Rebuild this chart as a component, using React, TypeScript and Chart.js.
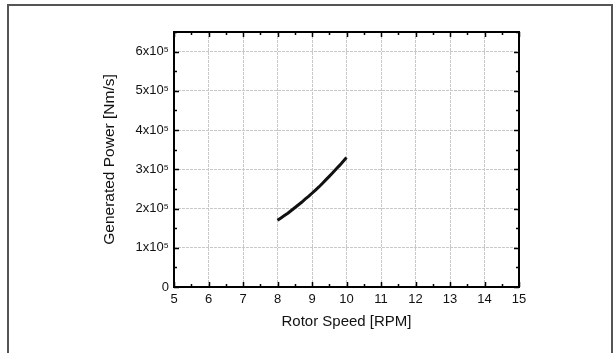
import React, { useEffect, useRef } from "react";
import { Chart, registerables } from "chart.js";

Chart.register(...registerables);

const rotorSpeed = [8.0, 8.1, 8.2, 8.3, 8.4, 8.5, 8.6, 8.7, 8.8, 8.9, 9.0, 9.1, 9.2, 9.3, 9.4, 9.5, 9.6, 9.7, 9.8, 9.9, 10.0];
const generatedPower = [170000, 176000, 182000, 188000, 195000, 202000, 209000, 216000, 224000, 231000, 239000, 247000, 255000, 264000, 273000, 282000, 291000, 301000, 310000, 320000, 330000];
const yTickValues = [0, 100000, 200000, 300000, 400000, 500000, 600000];
const xTitle = "Rotor Speed [RPM]";
const yTitle = "Generated Power [Nm/s]";

const FONT = "'Liberation Sans', Arial, Helvetica, sans-serif";

const framePlugin = {
  id: "frame",
  beforeDraw(chart: any) {
    const ctx = chart.ctx;
    ctx.save();
    ctx.fillStyle = "#ffffff";
    ctx.fillRect(0, 0, chart.width, chart.height);
    ctx.strokeStyle = "#555555";
    ctx.lineWidth = 2;
    ctx.strokeRect(8, 5, 604, 400);
    ctx.restore();
  },
  afterDraw(chart: any) {
    const ctx = chart.ctx;
    const a = chart.chartArea;
    const xs = chart.scales.x;
    const ys = chart.scales.y;
    ctx.save();
    ctx.strokeStyle = "#000000";
    ctx.lineWidth = 1.5;
    ctx.beginPath();
    for (let v = 5; v <= 15.001; v += 0.5) {
      const px = Math.round(xs.getPixelForValue(v)) + 0.5;
      const len = Math.abs(v - Math.round(v)) < 1e-6 ? 5 : 3;
      ctx.moveTo(px, a.bottom);
      ctx.lineTo(px, a.bottom - len);
      ctx.moveTo(px, a.top);
      ctx.lineTo(px, a.top + len);
    }
    for (let v = 0; v <= 650001; v += 50000) {
      const py = Math.round(ys.getPixelForValue(v)) + 0.5;
      const len = v % 100000 === 0 ? 5 : 3;
      ctx.moveTo(a.left, py);
      ctx.lineTo(a.left + len, py);
      ctx.moveTo(a.right, py);
      ctx.lineTo(a.right - len, py);
    }
    ctx.stroke();
    ctx.lineWidth = 2;
    ctx.strokeRect(a.left, a.top, a.right - a.left, a.bottom - a.top);
    ctx.restore();
  },
};

export default function App() {
  const ref = useRef<HTMLCanvasElement>(null);
  useEffect(() => {
    document.body.style.margin = "0";
    const chart = new Chart(ref.current as HTMLCanvasElement, {
      type: "line",
      data: {
        datasets: [
          {
            data: rotorSpeed.map((x, i) => ({ x, y: generatedPower[i] })),
            borderColor: "#111111",
            borderWidth: 3,
            pointRadius: 0,
            fill: false,
            tension: 0,
          },
        ],
      },
      options: {
        responsive: false,
        animation: false,
        layout: { padding: { left: 96, top: 32, right: 97, bottom: 18 } },
        plugins: { legend: { display: false }, tooltip: { enabled: false } },
        scales: {
          x: {
            type: "linear",
            min: 5,
            max: 15,
            ticks: {
              stepSize: 1,
              padding: 5,
              color: "#111",
              font: { family: FONT, size: 13 },
            },
            grid: { color: "#c8c8c8", drawTicks: false, lineWidth: 1 },
            border: { display: false, dash: [3, 1] },
            title: {
              display: true,
              text: xTitle,
              color: "#111",
              font: { family: FONT, size: 15 },
            },
            afterFit(scale: any) {
              scale.height = 48;
            },
          },
          y: {
            type: "linear",
            min: 0,
            max: 650000,
            afterBuildTicks(scale: any) {
              scale.ticks = yTickValues.map((v) => ({ value: v }));
            },
            ticks: {
              padding: 5,
              color: "#111",
              font: { family: FONT, size: 13 },
              callback: (v: any) => (v === 0 ? "0" : `${Math.round(v / 100000)}x10\u2075`),
            },
            grid: { color: "#c8c8c8", drawTicks: false, lineWidth: 1 },
            border: { display: false, dash: [3, 1] },
            title: {
              display: true,
              text: yTitle,
              color: "#111",
              font: { family: FONT, size: 15.5 },
            },
            afterFit(scale: any) {
              scale.width = 78;
            },
          },
        },
      },
      plugins: [framePlugin],
    });
    return () => chart.destroy();
  }, []);
  return (
    <div style={{ width: 616, height: 353 }}>
      <canvas ref={ref} width={616} height={353} />
    </div>
  );
}
